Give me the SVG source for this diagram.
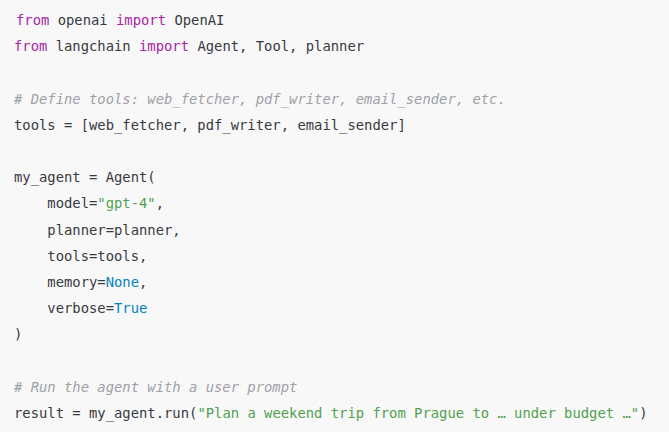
<svg xmlns="http://www.w3.org/2000/svg" width="669" height="432" viewBox="0 0 669 432">
<style>
text{font-family:"DejaVu Sans Mono","Liberation Mono",monospace;font-size:13.85px;fill:#383a42;white-space:pre}
.k{fill:#a626a4}
.s{fill:#50a14f}
.b{fill:#0184bc}
.c{fill:#a0a1a7;font-style:italic}
</style>
<rect x="0" y="0" width="669" height="432" fill="#f8f8f8"/>
<g id="code">
<text x="16" y="25" xml:space="preserve"><tspan class="k">from</tspan> openai <tspan class="k">import</tspan> OpenAI</text>
<text x="14" y="51.2" xml:space="preserve"><tspan class="k">from</tspan> langchain <tspan class="k">import</tspan> Agent, Tool, planner</text>
<text x="14" y="103.6" xml:space="preserve" class="c"># Define tools: web_fetcher, pdf_writer, email_sender, etc.</text>
<text x="14" y="129.8" xml:space="preserve">tools = [web_fetcher, pdf_writer, email_sender]</text>
<text x="14" y="182.2" xml:space="preserve">my_agent = Agent(</text>
<text x="14" y="208.4" xml:space="preserve">    model=<tspan class="s">"gpt-4"</tspan>,</text>
<text x="14" y="234.6" xml:space="preserve">    planner=planner,</text>
<text x="14" y="260.8" xml:space="preserve">    tools=tools,</text>
<text x="14" y="287" xml:space="preserve">    memory=<tspan class="b">None</tspan>,</text>
<text x="14" y="313.2" xml:space="preserve">    verbose=<tspan class="b">True</tspan></text>
<text x="14" y="339.4" xml:space="preserve">)</text>
<text x="14" y="391.8" xml:space="preserve" class="c"># Run the agent with a user prompt</text>
<text x="14" y="418" xml:space="preserve">result = my_agent.run(<tspan class="s">"Plan a weekend trip from Prague to … under budget …"</tspan>)</text>
</g>
</svg>
